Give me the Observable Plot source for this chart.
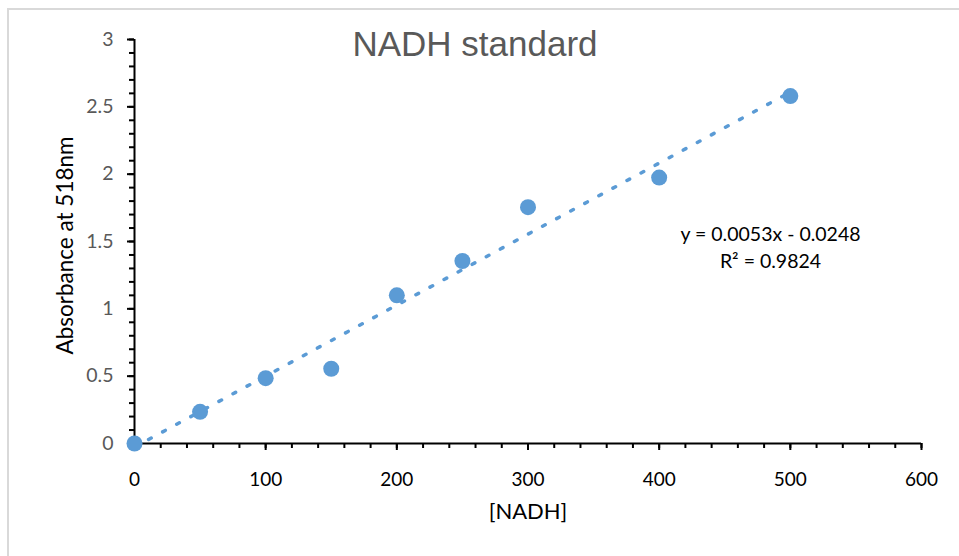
<!DOCTYPE html>
<html><head><meta charset="utf-8">
<script src="https://cdn.jsdelivr.net/npm/d3@7"></script>
<script src="https://cdn.jsdelivr.net/npm/@observablehq/plot@0.6"></script>
<style>
body{margin:0;background:#fff;}
#wrap{position:relative;width:959px;height:556px;overflow:hidden;}
#border{position:absolute;left:7px;top:8px;width:1000px;height:600px;border-left:2px solid #d9d9d9;border-top:2px solid #d9d9d9;pointer-events:none;}
#wrap svg{position:absolute;left:0;top:0;}
</style></head><body>
<div id="wrap"><div id="border"></div></div>
<script>
const nadh = [0, 50, 100, 150, 200, 250, 300, 400, 500];
const absorbance = [0, 0.235, 0.485, 0.555, 1.10, 1.355, 1.755, 1.975, 2.58];
const xTicks = [0, 100, 200, 300, 400, 500, 600];
const yTicks = [0, 0.5, 1, 1.5, 2, 2.5, 3];
const xMinor = d3.range(0, 601, 20);
const yMinor = d3.range(0, 31).map(d => d / 10);
const title = "NADH standard";
const xLabel = "[NADH]";
const yLabel = "Absorbance at 518nm";
const equation = "y = 0.0053x - 0.0248\nR² = 0.9824";

const data = nadh.map((x, i) => ({x, y: absorbance[i]}));
const color = "#5B9BD5";

const chart = Plot.plot({
  width: 959, height: 556,
  marginLeft: 134, marginRight: 38, marginTop: 39, marginBottom: 113,
  x: {domain: [0, 600]},
  y: {domain: [0, 3]},
  style: {fontFamily: "Lato", fontSize: "19px", background: "transparent", color: "#000"},
  marks: [
    Plot.axisY({ticks: yMinor, tickSize: 5, tickFormat: () => "", label: null, stroke: "#000", strokeWidth: 2, strokeOpacity: 1}),
    Plot.axisY({ticks: yTicks, tickSize: 7, tickPadding: 14, tickFormat: d => String(d), label: null, stroke: "#000", strokeWidth: 2, strokeOpacity: 1, fill: "#595959", fontSize: 19.5}),
    Plot.axisX({ticks: xMinor, tickSize: 5, tickFormat: () => "", label: null, stroke: "#000", strokeWidth: 2, strokeOpacity: 1}),
    Plot.axisX({ticks: xTicks, tickSize: 7, tickPadding: 22, tickFormat: d => String(d), label: null, stroke: "#000", strokeWidth: 2, strokeOpacity: 1, fill: "#000"}),
    Plot.ruleY([0], {stroke: "#000", strokeWidth: 2}),
    Plot.ruleX([0], {stroke: "#000", strokeWidth: 2}),
    Plot.linearRegressionY(data, {x: "x", y: "y", ci: 0, stroke: color, strokeWidth: 3.5, strokeDasharray: "3,13"}),
    Plot.dot(data, {x: "x", y: "y", r: 8, fill: color, stroke: "none"}),
    Plot.text([title], {frameAnchor: "top", dx: -53, dy: -8, fontFamily: "Liberation Sans", fontSize: 35, fill: "#595959"}),
    Plot.text([xLabel], {frameAnchor: "bottom", dy: 75, fontSize: 22, fill: "#000"}),
    Plot.text([yLabel], {frameAnchor: "left", dx: -69, dy: 4, rotate: -90, textAnchor: "middle", fontSize: 22.5, fill: "#000"}),
    Plot.text([equation], {frameAnchor: "top-left", dx: 636, dy: 182, fontSize: 19.5, lineHeight: 1.38, textAnchor: "middle", fill: "#000"})
  ]
});
document.getElementById("wrap").appendChild(chart);
</script>
</body></html>
